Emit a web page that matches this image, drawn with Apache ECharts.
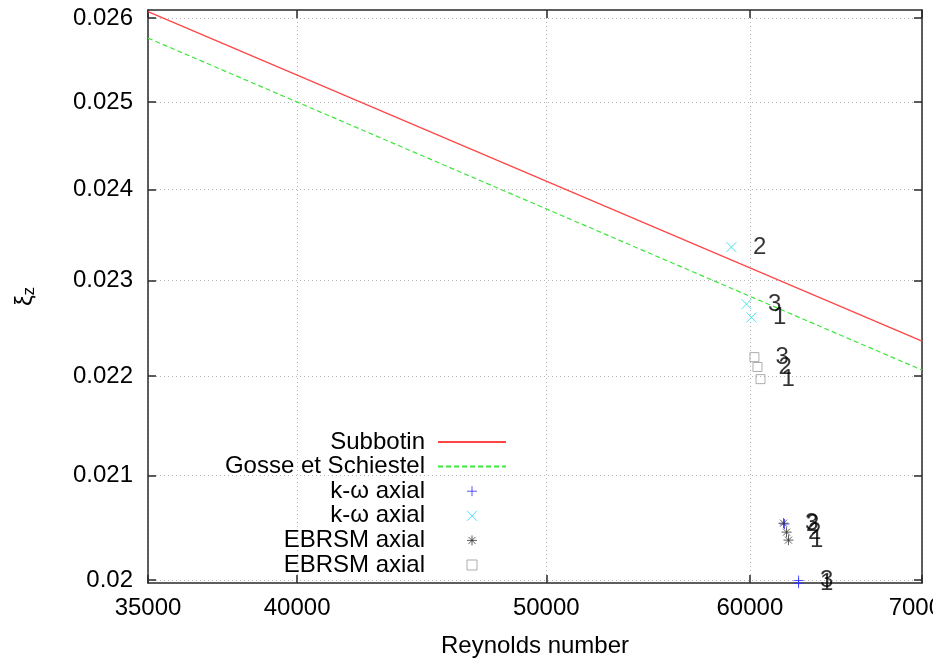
<!DOCTYPE html>
<html>
<head>
<meta charset="utf-8">
<script src="https://cdn.jsdelivr.net/npm/echarts@6/dist/echarts.min.js"></script>
<style>
  html, body { margin: 0; padding: 0; background: #fff; }
  #chart { width: 933px; height: 660px; }
</style>
</head>
<body>
<div id="chart"></div>
<script>
// Axis extents and tick positions
const reRange = [35000, 70000];
const xiRange = [0.019972, 0.02610];
const xTicks = [35000, 40000, 50000, 60000, 70000];
const yTicks = [0.020, 0.021, 0.022, 0.023, 0.024, 0.025, 0.026];

// Correlations (straight lines on log-log axes)
const subbotinRe = [35000, 70000];
const subbotinXi = [0.02608, 0.02236];
const gosseRe = [35000, 70000];
const gosseXi = [0.02576, 0.02206];

// k-omega runs, first set (+)
const kwPlusRe = [62675, 61890, 62675];
const kwPlusXi = [0.01997, 0.02053, 0.019995];
const kwPlusRun = ['1', '2', '3'];

// k-omega runs, second set (x)
const kwCrossRe = [60085, 59017, 59815];
const kwCrossXi = [0.02261, 0.023364, 0.02275];
const kwCrossRun = ['1', '2', '3'];

// EBRSM runs, first set (*)
const ebStarRe = [62111, 62003, 61835];
const ebStarXi = [0.020376, 0.020452, 0.020538];
const ebStarRun = ['1', '2', '3'];

// EBRSM runs, second set (squares)
const ebSquareRe = [60574, 60409, 60245];
const ebSquareXi = [0.021967, 0.022092, 0.022194];
const ebSquareRun = ['1', '2', '3'];

const FONT = 'Liberation Sans, Arial, Helvetica, sans-serif';
const FS = 24;
const AXIS_COLOR = '#2a2a2a';

const legendText = {
  subbotin: 'Subbotin',
  gosse: 'Gosse et Schiestel',
  kwPlus: 'k-ω axial',
  kwCross: 'k-ω axial',
  ebStar: 'EBRSM axial',
  ebSquare: 'EBRSM axial'
};

const SYM_PLUS = 'path://M5,0L5,10M0,5L10,5';
const SYM_CROSS = 'path://M0,0L10,10M0,10L10,0';
const SYM_STAR = 'path://M5,0L5,10M0,5L10,5M1.5,1.5L8.5,8.5M1.5,8.5L8.5,1.5';
const SYM_SQUARE = 'path://M0,0L10,0L10,10L0,10Z';

function pairs(xs, ys) {
  return xs.map((x, i) => [x, ys[i]]);
}

function runSeries(name, xs, ys, runs, symbol, color, size) {
  return {
    name: name,
    type: 'scatter',
    xAxisIndex: 0,
    yAxisIndex: 0,
    clip: false,
    symbol: symbol,
    symbolSize: size,
    itemStyle: { color: 'transparent', borderColor: color, borderWidth: 1 },
    label: {
      show: true,
      position: 'right',
      distance: 16,
      color: '#000',
      fontFamily: FONT,
      fontSize: FS,
      formatter: (p) => runs[p.dataIndex]
    },
    emphasis: { disabled: true },
    data: pairs(xs, ys),
    z: 4
  };
}

function logAxisX(position, showLabels) {
  return {
    type: 'log',
    position: position,
    min: reRange[0],
    max: reRange[1],
    axisLine: { show: true, onZero: false, lineStyle: { color: AXIS_COLOR, width: 1.5 } },
    axisTick: { show: true, inside: true, length: 8, customValues: xTicks, lineStyle: { color: AXIS_COLOR, width: 1.5 } },
    minorTick: { show: false },
    axisLabel: {
      show: showLabels,
      customValues: xTicks,
      margin: 13,
      color: '#000',
      fontFamily: FONT,
      fontSize: FS,
      formatter: (v) => String(Math.round(v))
    },
    splitLine: {
      show: showLabels,
      lineStyle: { color: '#b4b4b4', width: 1, type: [1, 3] }
    }
  };
}

function logAxisY(position, showLabels) {
  return {
    type: 'log',
    position: position,
    min: xiRange[0],
    max: xiRange[1],
    axisLine: { show: true, onZero: false, lineStyle: { color: AXIS_COLOR, width: 1.5 } },
    axisTick: { show: true, inside: true, length: 8, customValues: yTicks, lineStyle: { color: AXIS_COLOR, width: 1.5 } },
    minorTick: { show: false },
    axisLabel: {
      show: showLabels,
      customValues: yTicks,
      margin: 15,
      color: '#000',
      fontFamily: FONT,
      fontSize: FS,
      formatter: (v) => String(parseFloat(v.toFixed(3)))
    },
    splitLine: {
      show: showLabels,
      lineStyle: { color: '#b4b4b4', width: 1, type: [1, 3] }
    }
  };
}

const chart = echarts.init(document.getElementById('chart'), null, { renderer: 'canvas' });

const xBottom = logAxisX('bottom', true);
xBottom.name = 'Reynolds number';
xBottom.nameLocation = 'middle';
xBottom.nameGap = 51;
xBottom.nameTextStyle = { color: '#000', fontFamily: FONT, fontSize: FS };

const yLeft = logAxisY('left', true);
yLeft.name = '{g|ξ}{s|z}';
yLeft.nameLocation = 'middle';
yLeft.nameGap = 110;
yLeft.nameTextStyle = {
  color: '#000',
  fontFamily: FONT,
  fontSize: FS,
  rich: {
    g: { fontFamily: FONT, fontSize: FS, color: '#000' },
    s: { fontFamily: FONT, fontSize: 17, color: '#000', verticalAlign: 'bottom', padding: [9, 0, 0, 0] }
  }
};

// Line entries show only their stroke in the key
const hiddenMark = { color: 'transparent', borderColor: 'transparent', opacity: 0 };

chart.setOption({
  animation: false,
  backgroundColor: '#fff',
  grid: { left: 148, right: 11, top: 10, bottom: 77, outerBoundsMode: 'none', containLabel: false },
  xAxis: [xBottom, logAxisX('top', false)],
  yAxis: [yLeft, logAxisY('right', false)],
  legend: {
    orient: 'vertical',
    align: 'right',
    right: 426,
    top: 430,
    padding: 0,
    itemWidth: 68,
    itemHeight: 10,
    itemGap: 0.6,
    selectedMode: false,
    itemStyle: { borderWidth: 1 },
    textStyle: { color: '#000', fontFamily: FONT, fontSize: FS, lineHeight: 22, padding: [0, 8, 0, 0] },
    formatter: (name) => legendText[name],
    data: [
      { name: 'subbotin', itemStyle: hiddenMark },
      { name: 'gosse', itemStyle: hiddenMark },
      'kwPlus', 'kwCross', 'ebStar', 'ebSquare'
    ]
  },
  series: [
    {
      name: 'subbotin',
      type: 'line',
      symbol: 'none',
      lineStyle: { color: '#ff4545', width: 1.2 },
      itemStyle: { color: '#ff4545' },
      emphasis: { disabled: true },
      data: pairs(subbotinRe, subbotinXi),
      z: 3
    },
    {
      name: 'gosse',
      type: 'line',
      symbol: 'none',
      lineStyle: { color: '#3ee63e', width: 1.2, type: [5, 3] },
      itemStyle: { color: '#3ee63e' },
      emphasis: { disabled: true },
      data: pairs(gosseRe, gosseXi),
      z: 3
    },
    runSeries('kwPlus', kwPlusRe, kwPlusXi, kwPlusRun, SYM_PLUS, '#2a2aff', 10),
    runSeries('kwCross', kwCrossRe, kwCrossXi, kwCrossRun, SYM_CROSS, '#20dcec', 10),
    runSeries('ebStar', ebStarRe, ebStarXi, ebStarRun, SYM_STAR, '#333333', 10),
    runSeries('ebSquare', ebSquareRe, ebSquareXi, ebSquareRun, SYM_SQUARE, '#9a9a9a', 9)
  ]
});
</script>
</body>
</html>
